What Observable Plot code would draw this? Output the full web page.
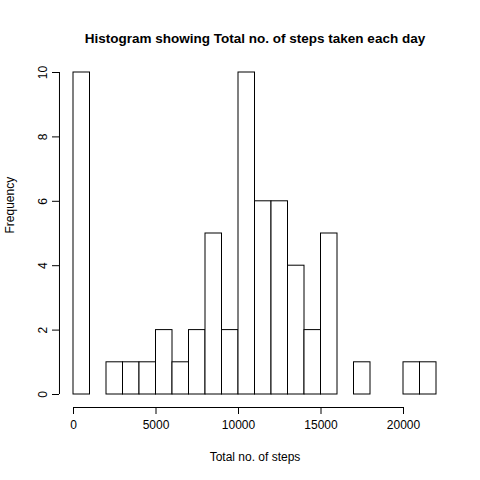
<!DOCTYPE html>
<html><head>
<script src="https://cdn.jsdelivr.net/npm/d3@7"></script>
<script src="https://cdn.jsdelivr.net/npm/@observablehq/plot@0.6"></script>
<style>body{margin:0;background:#fff}</style>
</head><body><div id="c"></div>
<script>
const binStarts = d3.range(0, 22000, 1000);
const counts = [10,0,1,1,1,2,1,2,5,2,10,6,6,4,2,5,0,1,0,0,1,1];
const xTicks = [0,5000,10000,15000,20000];
const yTicks = [0,2,4,6,8,10];
const bins = binStarts.map((s,i)=>({x1:s,x2:s+1000,n:counts[i]}));
const f = "Liberation Sans, Arial, sans-serif";
const chart = Plot.plot({
  width:480,height:480,marginLeft:73,marginRight:44,marginTop:72,marginBottom:86,
  style:{fontFamily:f,fontSize:"12px",background:"#fff"},
  x:{type:"linear",domain:[0,22000],axis:null},
  y:{type:"linear",domain:[0,10],axis:null},
  marks:[
    Plot.rect(bins,{x1:"x1",x2:"x2",y1:()=>0,y2:"n",fill:"white",stroke:"black",strokeWidth:1}),
    Plot.ruleY([{a:0,b:20000}],{y:()=>0,x1:"a",x2:"b",dy:13,stroke:"black"}),
    Plot.axisX(xTicks,{tickFormat:d=>String(d),tickSize:7,dy:13,tickPadding:6,fontSize:12,fill:"black",stroke:"black"}),
    Plot.ruleX([{a:0,b:10}],{x:()=>-850,y1:"a",y2:"b",stroke:"black"}),
    Plot.axisY(yTicks,{tickSize:7,dx:-14,tickPadding:6,tickRotate:-90,fontSize:12,fill:"black",stroke:"black"}),
    Plot.text(["Histogram showing Total no. of steps taken each day"],{frameAnchor:"top",dy:-39,fontWeight:"bold",fontSize:13.5,fill:"black"}),
    Plot.text(["Total no. of steps"],{frameAnchor:"bottom",dy:66,fontSize:12,fill:"black"}),
    Plot.text(["Frequency"],{frameAnchor:"left",dx:-63,rotate:-90,fontSize:12,fill:"black"})
  ]
});
document.getElementById("c").appendChild(chart);
</script></body></html>
